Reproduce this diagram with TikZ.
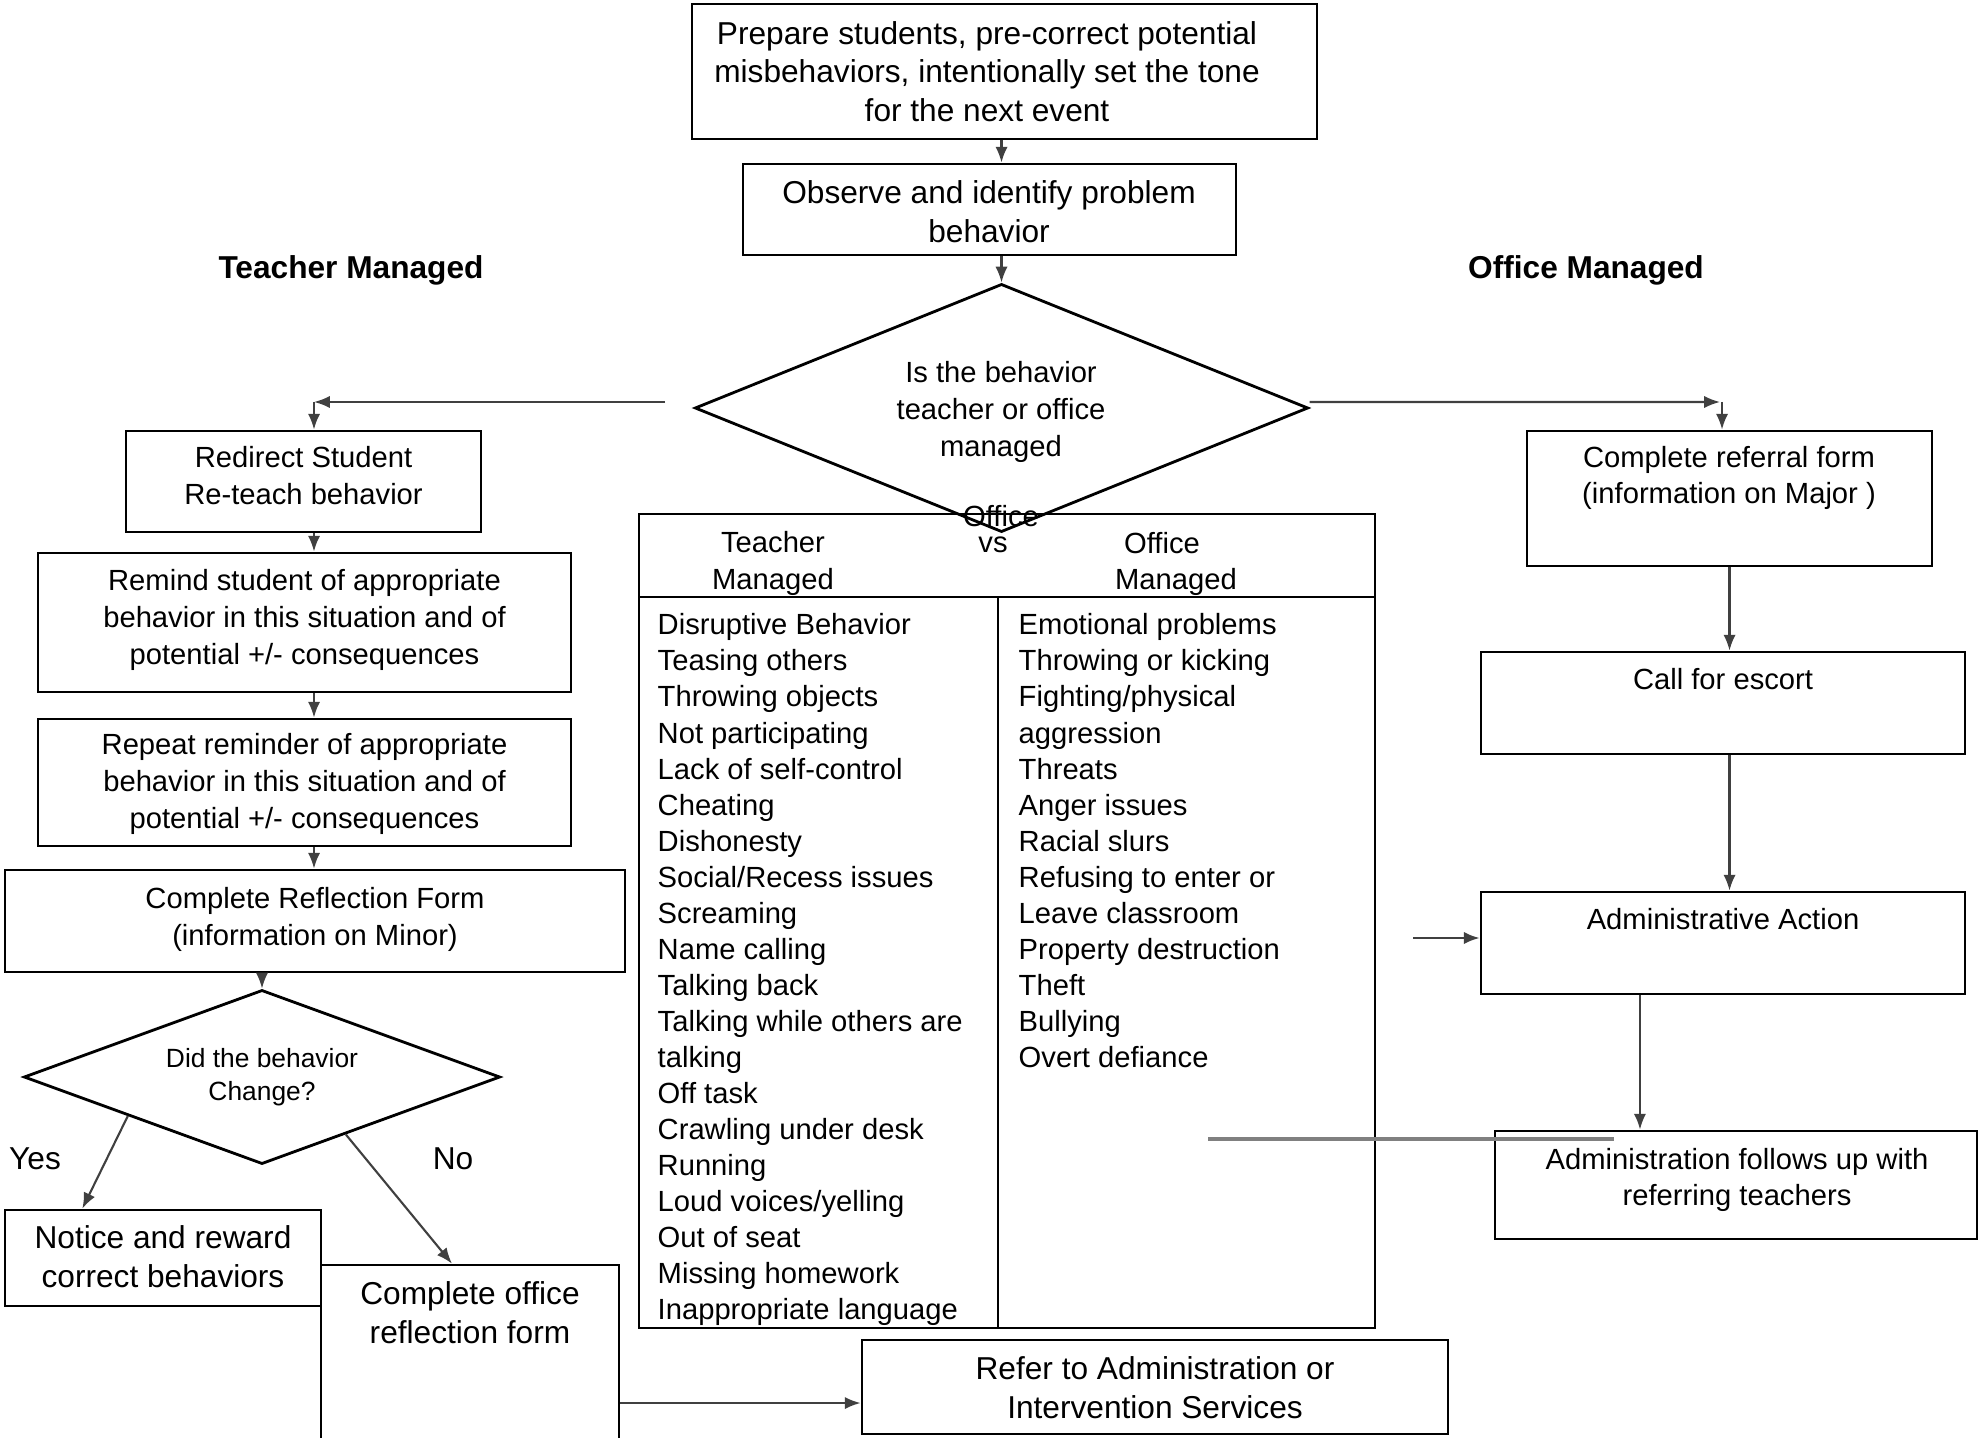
\documentclass[tikz,border=0pt]{standalone}
\usepackage{fontspec}
\setmainfont{Liberation Sans}
\usetikzlibrary{shapes.geometric,arrows.meta,calc,fit}
\newcommand\fsmain{\fontsize{8.3}{10.4}\selectfont}
\newcommand\fsbig{\fontsize{9}{11}\selectfont}
\newcommand\fssmall{\fontsize{7.5}{9.3}\selectfont}
\newcommand\fslist{\fontsize{8.3}{10.25}\selectfont}
\begin{document}
\begin{tikzpicture}[x=0.01cm,y=-0.01cm,
  box/.style={draw=black,line width=0.8pt,inner sep=0pt},
  tbl/.style={draw=black,line width=0.8pt,inner sep=0pt},
  dec/.style={draw=black,line width=0.8pt,diamond,inner sep=0pt,align=center},
  txt/.style={inner sep=0pt,align=center,font=\fsmain},
  btxt/.style={inner sep=0pt,align=center,font=\fsbig},
  lst/.style={anchor=north west,inner sep=0pt,align=left,font=\fslist},
  arr/.style={draw=black!75,line width=0.6pt,-{Latex[length=4.5pt,width=3.5pt]}}
]
\useasboundingbox (0,0) rectangle (1980,1437);

% top
\node[box,fit={(692,4)(1317,139)}] (top) {};
\node[btxt] (toptxt) at (987,71.5) {Prepare students, pre-correct potential\\misbehaviors, intentionally set the tone\\for the next event};
\node[box,fit={(743,164)(1236,255)}] (obs) {};
\node[btxt] (obstxt) at (989,212) {Observe and identify problem\\behavior};
\node[dec,font=\fsmain,shape aspect=2.47,minimum width=6.13cm,minimum height=2.48cm] (dia) at (1001.5,408) {};
\node[txt] (diatxt) at (1001,412) {Is the behavior\\teacher or office\\managed};

\draw[arr] (top.south -| dia.north) -- (obs.north -| dia.north);
\draw[arr] (obs.south -| dia.north) -- (dia.north);

% headings
\node[inner sep=0pt,font=\fsbig\bfseries] (tmhead) at (351,270) {Teacher Managed};
\node[inner sep=0pt,font=\fsbig\bfseries] (omhead) at (1586,270) {Office Managed};

% left branch
\coordinate (lstart) at (665,402);
\coordinate (lcorner) at (314,402);
\node[box,fit={(126,431)(481,532)}] (redirect) {};
\node[txt] (redirecttxt) at (303.5,475.5) {Redirect Student\\Re-teach behavior};
\node[box,fit={(38,553)(571,692)}] (remind) {};
\node[txt] (remindtxt) at (304.5,620) {Remind student of appropriate\\behavior in this situation and of\\potential +/- consequences};
\node[box,fit={(38,719)(571,846)}] (repeat) {};
\node[txt] (repeattxt) at (304.5,784) {Repeat reminder of appropriate\\behavior in this situation and of\\potential +/- consequences};
\node[box,fit={(5,870)(625,972)}] (reflect) {};
\node[txt] (reflecttxt) at (315,919.5) {Complete Reflection Form\\(information on Minor)};
\node[dec,font=\fssmall,shape aspect=2.74,minimum width=4.76cm,minimum height=1.74cm] (dia2) at (262,1077) {Did the behavior\\Change?};
\node[box,fit={(5,1210)(321,1306)}] (notice) {};
\node[btxt] (noticetxt) at (163,1257) {Notice and reward\\correct behaviors};
\node[box,fit={(321,1265)(619,1445)}] (office) {};
\node[btxt] (officetxt) at (470,1313) {Complete office\\reflection form};
\node[box,fit={(862,1340)(1448,1434)}] (refer) {};
\node[btxt] (refertxt) at (1155,1387.5) {Refer to Administration or\\Intervention Services};
\node[inner sep=0pt,font=\fsbig] (yes) at (35,1159) {Yes};
\node[inner sep=0pt,font=\fsbig] (no) at (453,1159) {No};

\draw[arr] (lstart) -- (lcorner);
\draw[arr] (lcorner) -- (redirect.north -| lcorner);
\draw[arr] (redirect.south -| lcorner) -- (remind.north -| lcorner);
\draw[arr] (remind.south -| lcorner) -- (repeat.north -| lcorner);
\draw[arr] (repeat.south -| lcorner) -- (reflect.north -| lcorner);
\draw[arr] (reflect.south -| dia2.north) -- (dia2.north);
\draw[arr] ($(dia2.west)!0.44!(dia2.south)$) -- ($(notice.north west)!0.247!(notice.north east)$);
\draw[arr] ($(dia2.south)!0.35!(dia2.east)$) -- ($(office.north west)!0.44!(office.north east)$);
\coordinate (rin) at ([yshift=-0.16cm]refer.west);
\draw[arr] (office.east |- rin) -- (rin);

% table
\node[tbl,fit={(639,514)(1375,597)}] (hdr) {};
\node[tbl,fit={(639,597)(998,1328)}] (lcol) {};
\node[tbl,fit={(998,597)(1375,1328)}] (rcol) {};
\node[txt] (htm) at (773,563.5) {Teacher\\Managed};
\node[txt] (hvs) at (993,545) {vs};
\node[txt] (hom1) at (1162,543) {Office};
\node[txt] (hom2) at (1176,582) {Managed};
\node[txt] (hoff) at (1001,516) {Office};
\node[lst] (llist) at (657,613) {Disruptive Behavior\\Teasing others\\Throwing objects\\Not participating\\Lack of self-control\\Cheating\\Dishonesty\\Social/Recess issues\\Screaming\\Name calling\\Talking back\\Talking while others are\\talking\\Off task\\Crawling under desk\\Running\\Loud voices/yelling\\Out of seat\\Missing homework\\Inappropriate language};
\node[lst] (rlist) at (1018,613) {Emotional problems\\Throwing or kicking\\Fighting/physical\\aggression\\Threats\\Anger issues\\Racial slurs\\Refusing to enter or\\Leave classroom\\Property destruction\\Theft\\Bullying\\Overt defiance};

% right branch
\coordinate (rcorner) at (1720,402);
\node[box,fit={(1527,431)(1932,566)}] (referral) {};
\node[txt] (referraltxt) at (1729,478) {Complete referral form\\(information on Major )};
\node[box,fit={(1481,652)(1965,754)}] (escort) {};
\node[txt] (escorttxt) at (1723,679) {Call for escort};
\node[box,fit={(1481,892)(1965,994)}] (admin) {};
\node[txt] (admintxt) at (1723,919) {Administrative Action};
\node[box,fit={(1495,1131)(1977,1239)}] (follow) {};
\node[txt] (followtxt) at (1737,1180) {Administration follows up with\\referring teachers};

\draw[arr] ([yshift=0.06cm]dia.east) -- (rcorner);
\draw[arr] ([xshift=0.02cm]rcorner) -- ([xshift=0.02cm]rcorner |- referral.north);
\draw[arr] (referral.south) -- (referral.south |- escort.north);
\draw[arr] (escort.south -| referral.south) -- (admin.north -| referral.south);
\coordinate (ain) at (1413,938);
\draw[arr] (ain) -- (admin.west |- ain);
\coordinate (aout) at ([xshift=-0.83cm]admin.south);
\draw[arr] (aout) -- (aout |- follow.north);

% stray grey line
\coordinate (g1) at (1208,1139);
\coordinate (g2) at (1614,1139);
\draw[black!50,line width=1.1pt] (g1) -- (g2);
\end{tikzpicture}
\end{document}
